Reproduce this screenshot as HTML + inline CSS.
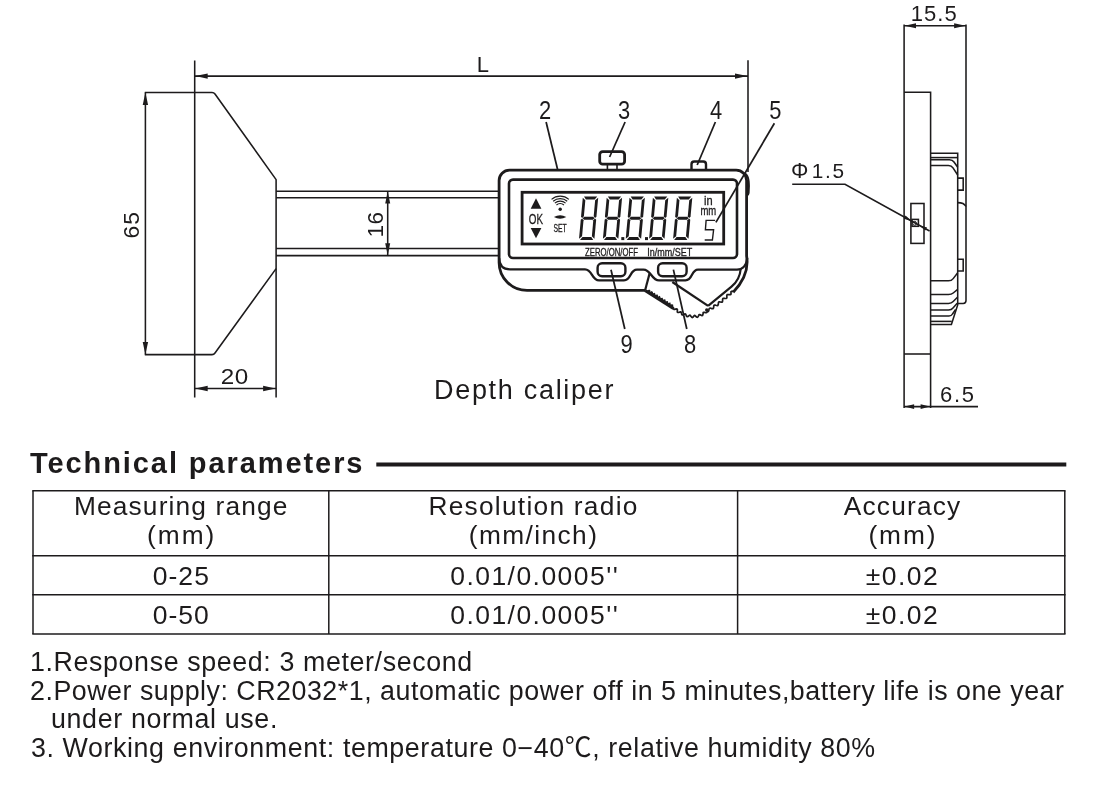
<!DOCTYPE html>
<html lang="en"><head><meta charset="utf-8"><title>Depth caliper - Technical parameters</title>
<style>
html,body{margin:0;padding:0;background:#fff;}
body{width:1106px;height:788px;position:relative;overflow:hidden;font-family:"Liberation Sans","Noto Sans CJK SC",sans-serif;color:#1d1b1c;}
svg{position:absolute;left:0;top:0;}
svg,h2,table,p{will-change:transform;}
h2{position:absolute;margin:0;left:30.17px;top:447.55px;font-size:29px;font-weight:bold;letter-spacing:1.917px;line-height:30px;white-space:nowrap;}
table{position:absolute;left:33.0px;top:490.8px;border-collapse:collapse;border-spacing:0;table-layout:fixed;width:1031.8px;}
th,td{position:relative;padding:0;font-weight:normal;}
th{height:65.0px;font-size:26.3px;}
td{font-size:26.5px;}
th span,td span{position:absolute;line-height:30px;white-space:nowrap;}
p{position:absolute;margin:0;font-size:26.8px;white-space:nowrap;line-height:30px;}
</style></head><body>
<svg width="1106" height="788" viewBox="0 0 1106 788">
<line x1="194.7" y1="60.5" x2="194.7" y2="397.4" stroke="#1d1b1c" stroke-width="1.55"/>
<path d="M144.8,92.4 H212 Q213.9,92.4 215,94 L276.1,179.6 V397.4" fill="none" stroke="#1d1b1c" stroke-width="1.55" stroke-linejoin="round"/>
<path d="M144.8,354.6 H212 Q213.9,354.6 215,353 L276.1,268.6" fill="none" stroke="#1d1b1c" stroke-width="1.55" />
<line x1="145.4" y1="92.4" x2="145.4" y2="354.6" stroke="#1d1b1c" stroke-width="1.55"/>
<polygon points="145.4,92.6 148.1,105.1 142.7,105.1" fill="#1d1b1c"/>
<polygon points="145.4,354.4 142.7,341.9 148.1,341.9" fill="#1d1b1c"/>
<line x1="194.7" y1="76.1" x2="748" y2="76.1" stroke="#1d1b1c" stroke-width="1.55"/>
<polygon points="195.2,76.1 207.7,73.4 207.7,78.8" fill="#1d1b1c"/>
<polygon points="747.5,76.1 735.0,78.8 735.0,73.4" fill="#1d1b1c"/>
<line x1="748" y1="60.2" x2="748" y2="172" stroke="#1d1b1c" stroke-width="1.55"/>
<line x1="194.7" y1="388.5" x2="276.1" y2="388.5" stroke="#1d1b1c" stroke-width="1.55"/>
<polygon points="195.2,388.5 207.7,385.8 207.7,391.2" fill="#1d1b1c"/>
<polygon points="275.6,388.5 263.1,391.2 263.1,385.8" fill="#1d1b1c"/>
<line x1="276.1" y1="191.2" x2="498.6" y2="191.2" stroke="#1d1b1c" stroke-width="1.55"/>
<line x1="276.1" y1="197.8" x2="498.6" y2="197.8" stroke="#1d1b1c" stroke-width="1.55"/>
<line x1="276.1" y1="248.4" x2="498.6" y2="248.4" stroke="#1d1b1c" stroke-width="1.55"/>
<line x1="276.1" y1="255.6" x2="498.6" y2="255.6" stroke="#1d1b1c" stroke-width="1.55"/>
<line x1="387.7" y1="191.2" x2="387.7" y2="255.6" stroke="#1d1b1c" stroke-width="1.55"/>
<polygon points="387.7,191.6 390.2,203.6 385.2,203.6" fill="#1d1b1c"/>
<polygon points="387.7,255.2 385.2,243.2 390.2,243.2" fill="#1d1b1c"/>
<path d="M645,290.4 H527 A28,28 0 0 1 499.1,262.4 V180.6 A10.4,10.4 0 0 1 509.5,170.2 H736.2 A10.4,10.4 0 0 1 746.6,180.6 V256 C748.6,268 745,280 733.2,292.3" fill="none" stroke="#1d1b1c" stroke-width="2.8" stroke-linejoin="round"/>
<path d="M744.5,172 C749,174 750,180 749.9,186 L749.6,193 Q749,196 747.8,196 V180 Z" fill="#1d1b1c"/>
<path d="M499.1,258 Q499.3,269.3 510,269.3 H585 C592.5,269.3 591.5,280.3 599,280.3 H624 C631.5,280.3 629.5,269.6 637,269.6 H643.5 C651,269.6 651.5,280.4 659,280.4 H685.5 C693,280.4 691,269.6 698,269.6 H737 Q746,269.4 747.2,258" fill="none" stroke="#1d1b1c" stroke-width="2.3" />
<rect x="509" y="179.6" width="228" height="78.4" rx="4" fill="none" stroke="#1d1b1c" stroke-width="2.6"/>
<rect x="522.1" y="192.3" width="201.6" height="51.7" fill="none" stroke="#1d1b1c" stroke-width="2.8"/>
<rect x="599.7" y="151.6" width="24.9" height="12.6" rx="3" fill="none" stroke="#1d1b1c" stroke-width="2.8"/>
<line x1="607.4" y1="165" x2="607.4" y2="170" stroke="#1d1b1c" stroke-width="1.6"/>
<line x1="617" y1="165" x2="617" y2="170" stroke="#1d1b1c" stroke-width="1.6"/>
<path d="M691.5,170 V164.2 Q691.5,161.5 694.2,161.5 H703.3 Q706,161.5 706,164.2 V170" fill="none" stroke="#1d1b1c" stroke-width="2.4" />
<rect x="597.6" y="263.3" width="27.8" height="12.9" rx="4.5" fill="none" stroke="#1d1b1c" stroke-width="2.4"/>
<rect x="658.1" y="263.3" width="28.5" height="12.9" rx="4.5" fill="none" stroke="#1d1b1c" stroke-width="2.4"/>
<line x1="649.6" y1="273.4" x2="645.2" y2="290" stroke="#1d1b1c" stroke-width="2.2"/>
<path d="M645,290.6 L673.4,308.6" fill="none" stroke="#1d1b1c" stroke-width="3.0" />
<path d="M672.3,282 L708.1,305.9" fill="none" stroke="#1d1b1c" stroke-width="2.3" />
<path d="M740.7,269 C740,277 736,283 731.5,286.6 L708.1,305.9" fill="none" stroke="#1d1b1c" stroke-width="2.2" />
<path d="M647.0,290.2 L647.0,291.1 L647.4,291.4 L648.3,291.0 L649.1,290.6 L649.5,290.9 L649.5,291.9 L649.6,292.8 L650.0,293.0 L650.9,292.6 L651.7,292.2 L652.1,292.6 L652.1,293.6 L652.1,294.4 L652.6,294.6 L653.5,294.1 L654.3,293.8 L654.6,294.2 L654.6,295.2 L654.7,296.1 L655.2,296.2 L656.1,295.7 L656.9,295.4 L657.2,295.9 L657.1,296.9 L657.2,297.7 L657.8,297.7 L658.7,297.3 L659.4,297.0 L659.7,297.6 L659.6,298.6 L659.8,299.4 L660.4,299.3 L661.3,298.8 L662.0,298.7 L662.2,299.3 L662.2,300.3 L662.3,301.0 L663.0,300.9 L663.9,300.4 L664.6,300.3 L664.8,300.9 L664.7,302.0 L664.9,302.6 L665.6,302.5 L666.5,302.0 L667.1,301.9 L667.3,302.6 L667.2,303.6 L667.5,304.2 L668.2,304.1 L669.1,303.6 L669.7,303.5 L669.8,304.3 L669.8,305.3 L670.0,305.9 L670.8,305.6 L671.7,305.1 L672.3,305.2 L672.4,306.0 L672.3,307.0 L672.6,307.5 L673.4,307.2" fill="none" stroke="#1d1b1c" stroke-width="1.8" />
<path d="M673.5,307.5 L673.5,308.3 L673.6,309.0 L674.0,309.3 L674.7,309.3 L675.5,309.1 L676.3,308.9 L676.9,309.0 L677.3,309.3 L677.4,310.0 L677.3,310.9 L677.3,311.7 L677.5,312.3 L678.0,312.5 L678.7,312.4 L679.5,312.2 L680.2,311.9 L680.8,311.8 L681.2,312.2 L681.4,312.9 L681.6,313.8 L681.8,314.5 L682.2,314.9 L682.8,314.9 L683.5,314.6 L684.2,314.2 L684.9,313.9 L685.5,314.0 L685.7,314.4 L686.1,315.2 L686.4,316.0 L686.8,316.6 L687.3,316.7 L688.0,316.4 L688.7,315.8 L689.4,315.3 L690.0,315.2 L690.4,315.5 L690.7,316.1 L691.3,316.8 L691.8,317.4 L692.3,317.6 L692.8,317.3 L693.4,316.6 L694.0,315.9 L694.5,315.5 L695.0,315.6 L695.4,315.9 L696.0,316.5 L696.6,317.0 L697.2,317.3 L697.7,317.1 L698.1,316.5 L698.5,315.8 L698.8,315.0 L699.3,314.6 L699.6,314.6 L700.3,314.9 L701.2,315.3 L701.9,315.6 L702.5,315.5 L702.8,314.9 L703.0,314.0 L703.2,313.2 L703.2,312.6 L703.7,312.4 L704.5,312.4 L705.5,312.7 L706.3,312.7 L706.8,312.5 L706.9,311.8" fill="none" stroke="#1d1b1c" stroke-width="1.7" />
<path d="M706.5,311.3 L707.3,311.6 L707.9,311.6 L708.4,311.4 L708.7,310.8 L708.9,310.1 L709.0,309.2 L709.2,308.6 L709.6,308.2 L710.2,308.1 L710.9,308.3 L711.7,308.6 L712.4,308.7 L713.0,308.6 L713.4,308.2 L713.6,307.6 L713.7,306.8 L713.8,306.0 L714.0,305.4 L714.5,305.1 L715.1,305.1 L715.8,305.3 L716.6,305.5 L717.3,305.6 L717.8,305.5 L718.1,305.0 L718.3,304.3 L718.4,303.5 L718.4,302.8 L718.6,302.2 L719.0,301.9 L719.6,301.9 L720.3,302.0 L721.1,302.1 L721.8,302.2 L722.3,302.0 L722.5,301.5 L722.6,300.8 L722.6,300.0 L722.6,299.3 L722.8,298.7 L723.2,298.4 L723.7,298.3 L724.5,298.4 L725.3,298.5 L726.0,298.5 L726.5,298.3 L726.8,297.9 L726.9,297.2 L726.8,296.4 L726.8,295.6 L727.0,295.0 L727.3,294.6 L728.0,294.5 L728.7,294.6 L729.5,294.7 L730.2,294.7 L730.7,294.5 L731.0,294.0 L731.0,293.3 L731.0,292.5 L731.0,291.7 L732.1,291.2 L732.6,291.3 L733.2,291.8" fill="none" stroke="#1d1b1c" stroke-width="1.7" />
<circle cx="706.8" cy="310" r="1.8" fill="#1d1b1c"/>
<polygon points="536,198.3 530.7,208.7 541.4,208.7" fill="#1d1b1c"/>
<polygon points="530.7,228.1 541.4,228.1 536,238.3" fill="#1d1b1c"/>
<path d="M551.54,199.34 A13.2,13.2 0 0 1 568.86,199.34" fill="none" stroke="#1d1b1c" stroke-width="1.15" />
<path d="M553.18,201.22 A10.7,10.7 0 0 1 567.22,201.22" fill="none" stroke="#1d1b1c" stroke-width="1.15" />
<path d="M554.82,203.11 A8.2,8.2 0 0 1 565.58,203.11" fill="none" stroke="#1d1b1c" stroke-width="1.15" />
<path d="M556.46,205.00 A5.7,5.7 0 0 1 563.94,205.00" fill="none" stroke="#1d1b1c" stroke-width="1.15" />
<circle cx="560.2" cy="209.2" r="1.7" fill="#1d1b1c"/>
<path d="M553.9,217 Q560.1,213.4 566.3,217 Q560.1,220.4 553.9,217 Z" fill="#1d1b1c"/>
<g fill="#1d1b1c" aria-label="88.8.88" role="img"><title>88.8.88</title>
<polygon points="584.00,196.40 597.20,196.40 594.71,199.60 585.91,199.60"/>
<polygon points="580.00,240.10 593.20,240.10 591.29,236.90 582.49,236.90"/>
<polygon points="582.58,218.25 584.35,216.65 593.15,216.65 594.62,218.25 592.85,219.85 584.05,219.85"/>
<polygon points="582.78,197.70 585.34,200.30 583.89,216.15 582.19,217.95 581.03,216.79"/>
<polygon points="598.18,197.70 595.14,200.30 593.69,216.15 595.07,217.95 596.43,216.79"/>
<polygon points="579.02,238.80 582.06,236.20 583.51,220.35 582.13,218.55 580.77,219.71"/>
<polygon points="594.42,238.80 591.86,236.20 593.31,220.35 595.01,218.55 596.17,219.71"/>
<polygon points="607.90,196.40 621.10,196.40 618.61,199.60 609.81,199.60"/>
<polygon points="603.90,240.10 617.10,240.10 615.19,236.90 606.39,236.90"/>
<polygon points="606.48,218.25 608.25,216.65 617.05,216.65 618.52,218.25 616.75,219.85 607.95,219.85"/>
<polygon points="606.68,197.70 609.24,200.30 607.79,216.15 606.09,217.95 604.93,216.79"/>
<polygon points="622.08,197.70 619.04,200.30 617.59,216.15 618.97,217.95 620.33,216.79"/>
<polygon points="602.92,238.80 605.96,236.20 607.41,220.35 606.03,218.55 604.67,219.71"/>
<polygon points="618.32,238.80 615.76,236.20 617.21,220.35 618.91,218.55 620.07,219.71"/>
<polygon points="630.70,196.40 643.90,196.40 641.41,199.60 632.61,199.60"/>
<polygon points="626.70,240.10 639.90,240.10 637.99,236.90 629.19,236.90"/>
<polygon points="629.28,218.25 631.05,216.65 639.85,216.65 641.32,218.25 639.55,219.85 630.75,219.85"/>
<polygon points="629.48,197.70 632.04,200.30 630.59,216.15 628.89,217.95 627.73,216.79"/>
<polygon points="644.88,197.70 641.84,200.30 640.39,216.15 641.77,217.95 643.13,216.79"/>
<polygon points="625.72,238.80 628.76,236.20 630.21,220.35 628.83,218.55 627.47,219.71"/>
<polygon points="641.12,238.80 638.56,236.20 640.01,220.35 641.71,218.55 642.87,219.71"/>
<polygon points="654.10,196.40 667.30,196.40 664.81,199.60 656.01,199.60"/>
<polygon points="650.10,240.10 663.30,240.10 661.39,236.90 652.59,236.90"/>
<polygon points="652.68,218.25 654.45,216.65 663.25,216.65 664.72,218.25 662.95,219.85 654.15,219.85"/>
<polygon points="652.88,197.70 655.44,200.30 653.99,216.15 652.29,217.95 651.13,216.79"/>
<polygon points="668.28,197.70 665.24,200.30 663.79,216.15 665.17,217.95 666.53,216.79"/>
<polygon points="649.12,238.80 652.16,236.20 653.61,220.35 652.23,218.55 650.87,219.71"/>
<polygon points="664.52,238.80 661.96,236.20 663.41,220.35 665.11,218.55 666.27,219.71"/>
<polygon points="678.10,196.40 691.30,196.40 688.81,199.60 680.01,199.60"/>
<polygon points="674.10,240.10 687.30,240.10 685.39,236.90 676.59,236.90"/>
<polygon points="676.68,218.25 678.45,216.65 687.25,216.65 688.72,218.25 686.95,219.85 678.15,219.85"/>
<polygon points="676.88,197.70 679.44,200.30 677.99,216.15 676.29,217.95 675.13,216.79"/>
<polygon points="692.28,197.70 689.24,200.30 687.79,216.15 689.17,217.95 690.53,216.79"/>
<polygon points="673.12,238.80 676.16,236.20 677.61,220.35 676.23,218.55 674.87,219.71"/>
<polygon points="688.52,238.80 685.96,236.20 687.41,220.35 689.11,218.55 690.27,219.71"/>
<rect x="621.3" y="237.1" width="3" height="3" />
<rect x="645.0" y="237.1" width="3" height="3" />
</g>
<path d="M715.1,220.4 H706.1 L705.4,229.8 H713.6 L712.4,240 H704.7" fill="none" stroke="#1d1b1c" stroke-width="1.4" stroke-linejoin="miter"/>
<line x1="546.1" y1="122" x2="557.6" y2="169.5" stroke="#1d1b1c" stroke-width="1.75"/>
<line x1="625.1" y1="122" x2="609.6" y2="157" stroke="#1d1b1c" stroke-width="1.75"/>
<line x1="715.4" y1="122" x2="697.2" y2="165" stroke="#1d1b1c" stroke-width="1.75"/>
<line x1="774.4" y1="123.3" x2="715.9" y2="222.4" stroke="#1d1b1c" stroke-width="1.75"/>
<line x1="611" y1="269.8" x2="624.8" y2="329" stroke="#1d1b1c" stroke-width="1.75"/>
<line x1="673.4" y1="269.6" x2="686.8" y2="329" stroke="#1d1b1c" stroke-width="1.75"/>
<line x1="904.1" y1="24.6" x2="904.1" y2="408" stroke="#1d1b1c" stroke-width="1.55"/>
<path d="M966,24.4 V300.5 Q966,303.4 963.2,303.4 H957.7" fill="none" stroke="#1d1b1c" stroke-width="1.55" />
<line x1="904.1" y1="25.7" x2="966" y2="25.7" stroke="#1d1b1c" stroke-width="1.55"/>
<polygon points="904.5,25.7 916.0,23.2 916.0,28.2" fill="#1d1b1c"/>
<polygon points="965.6,25.7 954.1,28.2 954.1,23.2" fill="#1d1b1c"/>
<path d="M904.1,92.3 H930.6 V408" fill="none" stroke="#1d1b1c" stroke-width="1.55" />
<line x1="904.1" y1="354" x2="930.6" y2="354" stroke="#1d1b1c" stroke-width="1.55"/>
<line x1="904.1" y1="406.6" x2="978" y2="406.6" stroke="#1d1b1c" stroke-width="1.55"/>
<polygon points="904.6,406.6 914.1,404.3 914.1,408.9" fill="#1d1b1c"/>
<polygon points="930.1,406.6 920.6,408.9 920.6,404.3" fill="#1d1b1c"/>
<path d="M930.6,153.3 H957.7 V305 L951.4,324.5 H930.6" fill="none" stroke="#1d1b1c" stroke-width="1.55" />
<line x1="930.6" y1="157.6" x2="957.7" y2="157.6" stroke="#1d1b1c" stroke-width="1.55"/>
<path d="M930.6,159.8 H949.5 Q952.5,159.8 954,162 L957.7,167.3" fill="none" stroke="#1d1b1c" stroke-width="1.55" />
<path d="M930.6,165.4 H948.5 Q951.5,165.4 953,167.8 L957.7,175" fill="none" stroke="#1d1b1c" stroke-width="1.55" />
<path d="M957.7,178.1 H963.2 V190.1 H957.7" fill="none" stroke="#1d1b1c" stroke-width="1.55" />
<path d="M957.7,259.2 H963.2 V270.9 H957.7" fill="none" stroke="#1d1b1c" stroke-width="1.55" />
<path d="M957.7,202.6 Q964,202.6 966,206.5" fill="none" stroke="#1d1b1c" stroke-width="1.55" />
<path d="M930.6,280.8 H948.5 Q951.5,280.8 953.2,278.6 L957.7,272.8" fill="none" stroke="#1d1b1c" stroke-width="1.55" />
<path d="M930.6,294.5 H948.5 Q951.5,294.5 953.2,293 L957.7,289.4" fill="none" stroke="#1d1b1c" stroke-width="1.55" />
<path d="M930.6,303.4 H948.5 Q951.5,303.4 953.2,301.5 L957.7,297" fill="none" stroke="#1d1b1c" stroke-width="1.55" />
<path d="M930.6,310 H948.5 Q951.5,310 953,308 L957.2,303.2" fill="none" stroke="#1d1b1c" stroke-width="1.55" />
<path d="M930.6,316 H949 Q951.4,316 952.5,314 L955.6,309.5" fill="none" stroke="#1d1b1c" stroke-width="1.55" />
<line x1="930.6" y1="321.4" x2="951.8" y2="321.4" stroke="#1d1b1c" stroke-width="1.55"/>
<rect x="910.9" y="203.5" width="13.1" height="39.9" fill="none" stroke="#1d1b1c" stroke-width="1.55"/>
<rect x="912" y="219.4" width="6.4" height="6.9" fill="none" stroke="#1d1b1c" stroke-width="1.55"/>
<circle cx="914.6" cy="223.3" r="1.9" fill="none" stroke="#1d1b1c" stroke-width="1"/>
<path d="M792.2,184.2 H845 L929.6,231" fill="none" stroke="#1d1b1c" stroke-width="1.55" />
<polygon points="911.6,221.0 903.7,218.7 905.5,215.6" fill="#1d1b1c"/>
<polygon points="919.2,225.2 927.1,227.5 925.3,230.6" fill="#1d1b1c"/>
<text transform="translate(476.80,71.8) scale(1.0,1)" font-size="22" letter-spacing="0" fill="#1d1b1c" font-family="Liberation Sans, Arial, sans-serif" font-weight="normal">L</text>
<text transform="translate(220.78,384.1) scale(1.1,1)" font-size="22" letter-spacing="0.404" fill="#1d1b1c" font-family="Liberation Sans, Arial, sans-serif" font-weight="normal">20</text>
<text transform="translate(139.4,238.46) rotate(-90)" font-size="22.8" letter-spacing="1.155" fill="#1d1b1c" font-family="Liberation Sans, Arial, sans-serif">65</text>
<text transform="translate(383.3,237.52) rotate(-90)" font-size="22.6" letter-spacing="0.477" fill="#1d1b1c" font-family="Liberation Sans, Arial, sans-serif">16</text>
<text transform="translate(910.72,20.7) scale(1.0,1)" font-size="22" letter-spacing="1.027" fill="#1d1b1c" font-family="Liberation Sans, Arial, sans-serif" font-weight="normal">15.5</text>
<text transform="translate(939.88,402.1) scale(1.0,1)" font-size="22" letter-spacing="1.779" fill="#1d1b1c" font-family="Liberation Sans, Arial, sans-serif" font-weight="normal">6.5</text>
<text y="178" fill="#1d1b1c" font-family="Liberation Sans, Arial, sans-serif"><tspan x="790.96" font-size="21.8">Φ</tspan><tspan x="811.82" font-size="20.8" letter-spacing="1.67">1.5</tspan></text>
<text transform="translate(545.0,118.9) scale(0.86,1)" font-size="25.5" text-anchor="middle" fill="#1d1b1c" font-family="Liberation Sans, Arial, sans-serif" >2</text>
<text transform="translate(624.2,118.9) scale(0.86,1)" font-size="25.5" text-anchor="middle" fill="#1d1b1c" font-family="Liberation Sans, Arial, sans-serif" >3</text>
<text transform="translate(716.2,118.9) scale(0.86,1)" font-size="25.5" text-anchor="middle" fill="#1d1b1c" font-family="Liberation Sans, Arial, sans-serif" >4</text>
<text transform="translate(775.4,118.9) scale(0.86,1)" font-size="25.5" text-anchor="middle" fill="#1d1b1c" font-family="Liberation Sans, Arial, sans-serif" >5</text>
<text transform="translate(626.5,353.4) scale(0.86,1)" font-size="25.5" text-anchor="middle" fill="#1d1b1c" font-family="Liberation Sans, Arial, sans-serif" >9</text>
<text transform="translate(690.2,353.4) scale(0.86,1)" font-size="25.5" text-anchor="middle" fill="#1d1b1c" font-family="Liberation Sans, Arial, sans-serif" >8</text>
<text transform="translate(535.9,223.7) scale(1,1)" font-size="14" text-anchor="middle" fill="#1d1b1c" font-family="Liberation Sans, Arial, sans-serif" textLength="14.2" lengthAdjust="spacingAndGlyphs" stroke="#1d1b1c" stroke-width="0.3">OK</text>
<text transform="translate(560.1,231.8) scale(1,1)" font-size="10.1" text-anchor="middle" fill="#1d1b1c" font-family="Liberation Sans, Arial, sans-serif" textLength="13.2" lengthAdjust="spacingAndGlyphs" stroke="#1d1b1c" stroke-width="0.3">SET</text>
<text transform="translate(708.3,204.9) scale(1,1)" font-size="12" text-anchor="middle" fill="#1d1b1c" font-family="Liberation Sans, Arial, sans-serif" textLength="8.6" lengthAdjust="spacingAndGlyphs" stroke="#1d1b1c" stroke-width="0.3">in</text>
<text transform="translate(708.3,214.9) scale(1,1)" font-size="12" text-anchor="middle" fill="#1d1b1c" font-family="Liberation Sans, Arial, sans-serif" textLength="15.8" lengthAdjust="spacingAndGlyphs" stroke="#1d1b1c" stroke-width="0.3">mm</text>
<text transform="translate(611.5,255.5) scale(1,1)" font-size="10.4" text-anchor="middle" fill="#1d1b1c" font-family="Liberation Sans, Arial, sans-serif" textLength="53" lengthAdjust="spacingAndGlyphs" stroke="#1d1b1c" stroke-width="0.3">ZERO/ON/OFF</text>
<text transform="translate(669.7,255.5) scale(1,1)" font-size="10.4" text-anchor="middle" fill="#1d1b1c" font-family="Liberation Sans, Arial, sans-serif" textLength="45" lengthAdjust="spacingAndGlyphs" stroke="#1d1b1c" stroke-width="0.3">In/mm/SET</text>
<text transform="translate(433.99,398.8) scale(1.0,1)" font-size="27" letter-spacing="1.698" fill="#1d1b1c" font-family="Liberation Sans, Arial, sans-serif" font-weight="normal">Depth caliper</text>
<line x1="32.25" y1="490.8" x2="1065.55" y2="490.8" stroke="#1d1b1c" stroke-width="1.5"/>
<line x1="32.25" y1="555.8" x2="1065.55" y2="555.8" stroke="#1d1b1c" stroke-width="1.5"/>
<line x1="32.25" y1="594.8" x2="1065.55" y2="594.8" stroke="#1d1b1c" stroke-width="1.5"/>
<line x1="32.25" y1="633.9" x2="1065.55" y2="633.9" stroke="#1d1b1c" stroke-width="1.5"/>
<line x1="33.0" y1="490.8" x2="33.0" y2="633.9" stroke="#1d1b1c" stroke-width="1.5"/>
<line x1="328.8" y1="490.8" x2="328.8" y2="633.9" stroke="#1d1b1c" stroke-width="1.5"/>
<line x1="737.6" y1="490.8" x2="737.6" y2="633.9" stroke="#1d1b1c" stroke-width="1.5"/>
<line x1="1064.8" y1="490.8" x2="1064.8" y2="633.9" stroke="#1d1b1c" stroke-width="1.5"/>
<rect x="376.3" y="462.5" width="690" height="4" fill="#1d1b1c"/>
</svg>
<h2>Technical parameters</h2>
<table><tr><th style="width:295.8px"><span style="left:40.94px;top:0.49px;letter-spacing:1.154px">Measuring range</span><span style="left:113.97px;top:29.39px;letter-spacing:2.01px">(mm)</span></th><th style="width:408.8px"><span style="left:99.64px;top:0.49px;letter-spacing:1.26px">Resolution radio</span><span style="left:139.97px;top:29.39px;letter-spacing:1.409px">(mm/inch)</span></th><th style="width:327.2px"><span style="left:106.25px;top:0.49px;letter-spacing:1.164px">Accuracy</span><span style="left:130.87px;top:29.39px;letter-spacing:1.91px">(mm)</span></th></tr><tr style="height:39.0px"><td><span style="left:119.66px;top:4.92px;letter-spacing:1.07px">0-25</span></td><td><span style="left:121.46px;top:4.92px;letter-spacing:1.446px">0.01/0.0005''</span></td><td><span style="left:128.16px;top:4.92px;letter-spacing:1.463px">±0.02</span></td></tr><tr style="height:39.1px"><td><span style="left:119.66px;top:5.02px;letter-spacing:1.044px">0-50</span></td><td><span style="left:121.46px;top:5.02px;letter-spacing:1.446px">0.01/0.0005''</span></td><td><span style="left:128.16px;top:5.02px;letter-spacing:1.463px">±0.02</span></td></tr></table>
<p style="left:30.06px;top:646.62px;letter-spacing:0.615px">1.Response speed: 3 meter/second</p>
<p style="left:30.45px;top:675.52px;letter-spacing:0.517px">2.Power supply: CR2032*1, automatic power off in 5 minutes,battery life is one year</p>
<p style="left:50.66px;top:704.32px;letter-spacing:0.649px">under normal use.</p>
<p style="left:30.98px;top:733.42px;letter-spacing:0.604px">3. Working environment: temperature 0−40℃, relative humidity 80%</p>
</body></html>
